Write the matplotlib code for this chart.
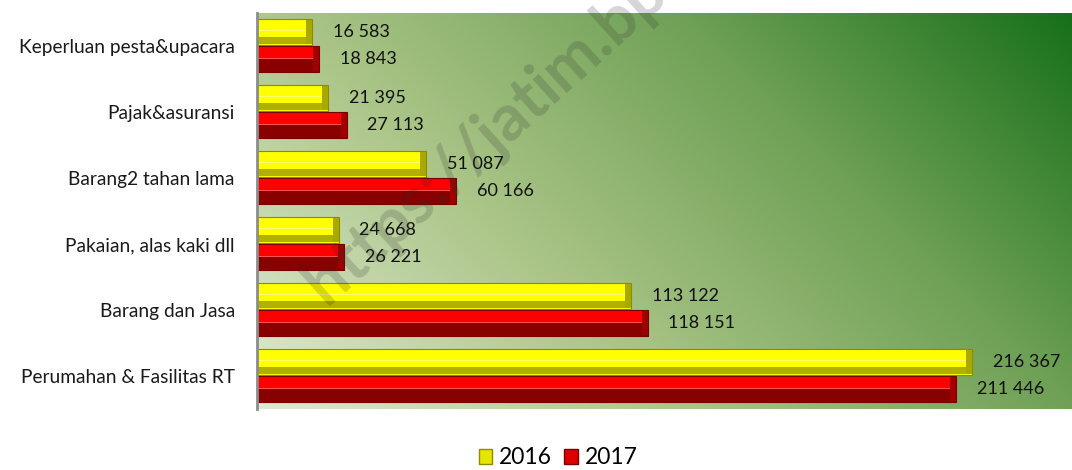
import numpy as np
import matplotlib
matplotlib.use("Agg")
import matplotlib.pyplot as plt
from matplotlib.patches import Patch
from matplotlib.colors import LinearSegmentedColormap

plt.rcParams['font.family'] = ['Lato', 'DejaVu Sans']

categories = ["Perumahan & Fasilitas RT", "Barang dan Jasa", "Pakaian, alas kaki dll",
              "Barang2 tahan lama", "Pajak&asuransi", "Keperluan pesta&upacara"]
values_2016 = [216367, 113122, 24668, 51087, 21395, 16583]
values_2017 = [211446, 118151, 26221, 60166, 27113, 18843]
series_names = ["2016", "2017"]


def fmt(v):
    return "{:,}".format(v).replace(",", " ")


fig = plt.figure(figsize=(10.72, 4.70), dpi=100)
ax = fig.add_axes([257 / 1072, 61 / 470, 1 - 257 / 1072, 396 / 470])

# background gradient, light bottom-left to dark green top-right
W, H = 815, 396
u = np.linspace(0, 1, 400)[None, :]
v = np.linspace(1, 0, 200)[:, None]
t = (u * W + v * H) / (W + H)
cmap = LinearSegmentedColormap.from_list("bg", [
    (0.0, "#dfead2"), (0.35, "#abc588"), (0.68, "#6ea055"), (1.0, "#17701a")])
ax.imshow(t, cmap=cmap, vmin=0, vmax=1, extent=[0, 1, 0, 1], transform=ax.transAxes,
          aspect="auto", zorder=0, interpolation="bilinear")

y = np.arange(len(categories))
h = 0.39
y16 = y + 0.215
y17 = y - 0.195
cap = 1800  # bevel at bar ends

# yellow bars with a darker lower band
ax.barh(y16, values_2016, height=h, color="#ffff00", edgecolor="#8c8c00", linewidth=0.8, zorder=2)
ax.barh(y16 - h * 0.34, values_2016, height=h * 0.30, color="#b0b000", linewidth=0, zorder=3)
ax.barh(y16 + h * 0.05, values_2016, height=h * 0.06, color="#ffff70", linewidth=0, zorder=3)
ax.barh(y16, cap, left=np.array(values_2016) - cap, height=h * 0.95, color="#a8a800",
        linewidth=0, zorder=3)

# red bars with a dark maroon lower half
ax.barh(y17, values_2017, height=h, color="#ff0000", edgecolor="#7a0000", linewidth=0.8, zorder=2)
ax.barh(y17 - h * 0.25, values_2017, height=h * 0.5, color="#880000", linewidth=0, zorder=3)
ax.barh(y17 + h * 0.02, values_2017, height=h * 0.06, color="#ff5050", linewidth=0, zorder=3)
ax.barh(y17, cap, left=np.array(values_2017) - cap, height=h * 0.95, color="#a00000",
        linewidth=0, zorder=3)

for yy, val in zip(y16, values_2016):
    ax.annotate(fmt(val), (val, yy), xytext=(15, 0), textcoords="offset points",
                va="center", ha="left", fontsize=13, color="#111111", zorder=4)
for yy, val in zip(y17, values_2017):
    ax.annotate(fmt(val), (val, yy), xytext=(15, 0), textcoords="offset points",
                va="center", ha="left", fontsize=13, color="#111111", zorder=4)

ax.set_xlim(0, 246500)
ax.set_ylim(-0.5, len(categories) - 0.5)
ax.set_yticks(y)
ax.set_yticklabels(categories, fontsize=13.8, color="#1a1a1a")
ax.tick_params(axis="y", length=0, pad=16)
ax.set_xticks([])
for side in ["top", "right", "bottom"]:
    ax.spines[side].set_visible(False)
ax.spines["left"].set_color("#8c8c8c")
ax.spines["left"].set_linewidth(2)
ax.spines["left"].set_zorder(5)

handles = [Patch(facecolor="#e6e600", edgecolor="#8c8c00"),
           Patch(facecolor="#dd0000", edgecolor="#7a0000")]
fig.legend(handles, series_names, loc="center", bbox_to_anchor=(558 / 1072, 12 / 470),
           ncol=2, frameon=False, fontsize=16.5, handlelength=0.6, handleheight=0.6,
           handletextpad=0.3, columnspacing=0.5)

# watermark on top of everything (runs off the top edge, as in the original)
fig.text(326 / 1072, (470 - 306) / 470, "https://jatim.bps.go.id", rotation=42,
         rotation_mode="anchor", ha="left", va="baseline", fontsize=47,
         fontweight="bold", color="#303030", alpha=0.2)

fig.savefig("out.png", dpi=100)
